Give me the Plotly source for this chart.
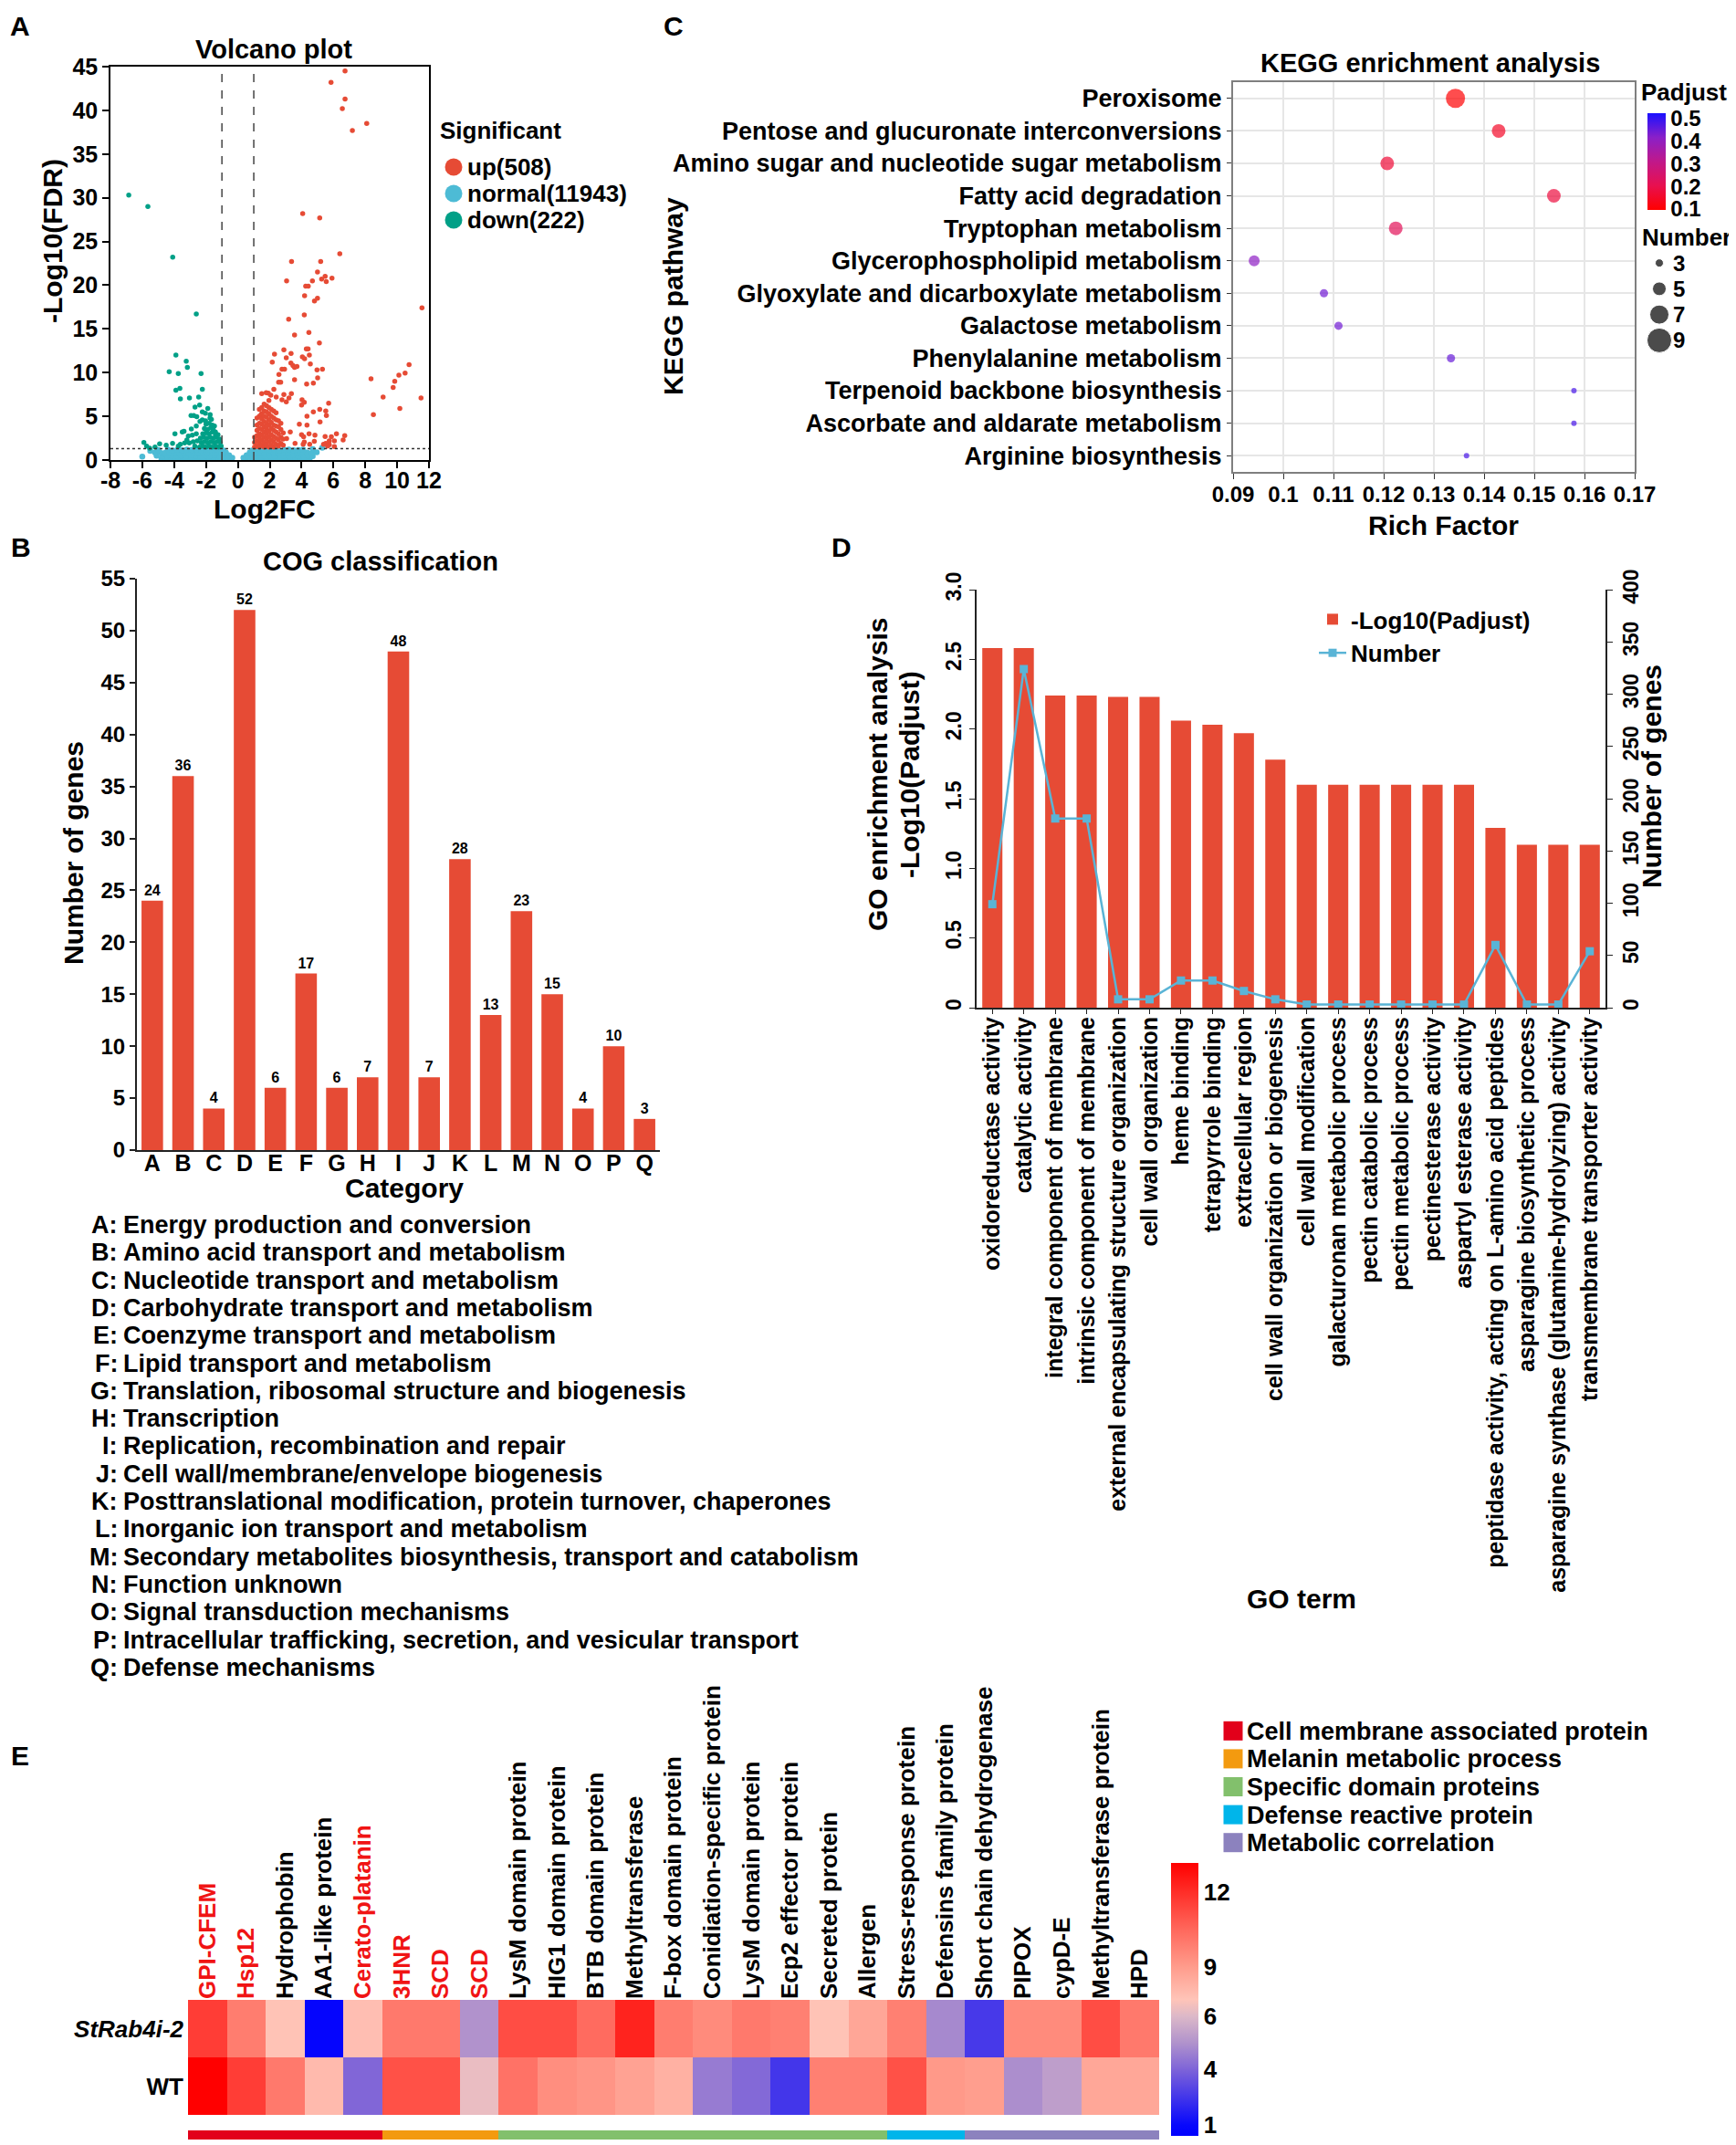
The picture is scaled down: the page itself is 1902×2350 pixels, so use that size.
import numpy as np
import plotly.graph_objects as go

W, H = 1902, 2350
PAGE_OFFSET = 8  # the page body margin shifts the figure by this many px
FONT = "Liberation Sans, Arial, sans-serif"


def px(x):
    return (x - PAGE_OFFSET) / W


def py(y):
    return 1 - (y - PAGE_OFFSET) / H


def bfont(size, color="black", **kw):
    return dict(family=FONT, size=size, color=color, weight="bold", **kw)


# ======================= DATA =======================
# ---- A: volcano plot ----
volcano_groups = ["up", "normal", "down"]
volcano_counts = [508, 11943, 222]
volcano_colors = ["#E64B35", "#4DBBD5", "#00A087"]
FC_CUT = 1.0
FDR_CUT = 1.3
volcano_xticks = [-8, -6, -4, -2, 0, 2, 4, 6, 8, 10, 12]
volcano_yticks = [0, 5, 10, 15, 20, 25, 30, 35, 40, 45]

up_pts = [
    (6.73, 44.5), (5.85, 43.2), (6.73, 41.3), (6.56, 40.2), (8.09, 38.5), (7.19, 37.7),
    (4.07, 28.2), (5.14, 27.7), (6.40, 23.6), (3.37, 22.7), (5.20, 22.7), (5.0, 21.5),
    (5.48, 21.0), (5.26, 20.7), (5.55, 20.4), (5.91, 20.8), (3.06, 20.5), (4.68, 20.5),
    (4.26, 19.9), (4.42, 19.9), (4.19, 18.8), (5.0, 18.5), (4.81, 18.2), (11.56, 17.4),
    (4.17, 16.6), (3.19, 16.1), (4.46, 14.6), (3.56, 14.3), (5.12, 13.4), (2.89, 12.6),
    (4.30, 12.7), (4.41, 12.7), (2.30, 12.1), (3.34, 12.2), (4.49, 12.0), (3.04, 11.7),
    (4.05, 11.8), (4.19, 11.6), (2.16, 11.2), (3.33, 11.1), (3.46, 10.8), (3.56, 10.6),
    (3.71, 10.7), (4.55, 11.0), (2.77, 10.4), (2.93, 10.4), (4.97, 10.3), (5.31, 10.4),
    (2.58, 9.8), (8.36, 9.3), (10.75, 10.9), (10.5, 9.95), (10.11, 9.7), (9.85, 9.0),
    (9.75, 8.3), (9.12, 7.2), (11.5, 7.1), (10.17, 5.9), (8.51, 5.2), (2.56, 8.9),
    (2.69, 8.9), (3.56, 9.2), (4.32, 8.7), (4.74, 8.8), (5.01, 9.4), (2.26, 8.1),
    (1.91, 7.65), (2.07, 7.4), (2.89, 7.5), (3.36, 7.6), (2.41, 7.2), (3.21, 7.1),
    (2.77, 6.9), (3.04, 6.65), (4.03, 6.9), (4.17, 6.6), (5.70, 6.5), (4.0, 6.3),
    (5.14, 5.8), (4.74, 5.5), (5.52, 5.6), (5.56, 5.1), (4.34, 5.0), (5.16, 4.35),
    (3.86, 4.1), (4.34, 4.0), (3.29, 3.2), (4.47, 3.0), (4.0, 2.9), (4.13, 2.65),
    (6.19, 3.0), (6.71, 2.8), (6.61, 2.3), (4.84, 2.85), (4.80, 2.15), (5.48, 2.7),
    (5.87, 2.65), (5.74, 2.2), (6.06, 2.2), (5.52, 1.9), (5.74, 1.75), (6.06, 1.55),
    (3.59, 1.9), (3.06, 2.45), (4.17, 2.05), (4.51, 1.8), (5.38, 1.8), (5.63, 1.6),
    (4.1, 1.8), (1.78, 7.7), (1.46, 5.2),
    # dense cluster just right of the fold-change cut
    (1.05, 1.5), (1.05, 2.0), (1.05, 2.6),
    (1.2, 1.6), (1.2, 2.2), (1.2, 2.8), (1.2, 3.4), (1.2, 4.0), (1.2, 4.8),
    (1.35, 1.5), (1.35, 2.0), (1.35, 2.5), (1.35, 3.0), (1.35, 3.6), (1.35, 4.2), (1.35, 5.0), (1.35, 5.8),
    (1.5, 1.7), (1.5, 2.3), (1.5, 2.9), (1.5, 3.5), (1.5, 4.1), (1.5, 4.7), (1.5, 5.3), (1.5, 6.0), (1.5, 7.6),
    (1.65, 1.5), (1.65, 2.0), (1.65, 2.6), (1.65, 3.2), (1.65, 3.8), (1.65, 4.4), (1.65, 5.0), (1.65, 5.6), (1.65, 6.4),
    (1.8, 1.8), (1.8, 2.4), (1.8, 3.0), (1.8, 3.6), (1.8, 4.2), (1.8, 4.9), (1.8, 5.5), (1.8, 6.2),
    (1.95, 1.5), (1.95, 2.1), (1.95, 2.7), (1.95, 3.3), (1.95, 4.0), (1.95, 4.6), (1.95, 5.3), (1.95, 6.0), (1.95, 6.8),
    (2.1, 1.7), (2.1, 2.3), (2.1, 2.9), (2.1, 3.6), (2.1, 4.3), (2.1, 5.0), (2.1, 5.8),
    (2.25, 1.5), (2.25, 2.1), (2.25, 2.7), (2.25, 3.4), (2.25, 4.0), (2.25, 4.8), (2.25, 5.6),
    (2.4, 1.8), (2.4, 2.5), (2.4, 3.2), (2.4, 3.9), (2.4, 4.6), (2.4, 5.4),
    (2.55, 1.6), (2.55, 2.3), (2.55, 3.0), (2.55, 3.8), (2.55, 4.5),
    (2.7, 1.9), (2.7, 2.6), (2.7, 3.5), (2.7, 4.2),
    (2.85, 1.7), (2.85, 2.4), (2.85, 3.1),
]

down_pts = [
    (-6.85, 30.3), (-5.65, 29.0), (-4.09, 23.2), (-2.61, 16.7), (-3.89, 12.0), (-3.24, 11.3),
    (-3.17, 10.6), (-4.31, 10.1), (-3.74, 9.9), (-2.31, 9.9), (-3.89, 8.0), (-3.64, 8.2),
    (-2.23, 8.1), (-3.61, 7.0), (-3.04, 7.1), (-2.46, 7.2), (-2.69, 6.05), (-2.40, 6.3),
    (-2.94, 5.1), (-2.77, 5.1), (-2.58, 4.95), (-1.89, 5.9), (-2.23, 5.5), (-2.04, 5.35),
    (-1.74, 5.2), (-1.75, 4.8), (-2.23, 4.6), (-2.03, 4.5), (-2.38, 4.4), (-1.66, 4.65),
    (-1.47, 3.9), (-1.41, 3.2), (-3.95, 3.0), (-3.49, 3.2), (-3.38, 3.3), (-2.92, 3.55),
    (-2.61, 3.9), (-3.11, 2.75), (-2.86, 2.85), (-2.61, 3.0), (-3.61, 1.8), (-3.34, 1.95),
    (-3.05, 1.95), (-5.90, 2.0), (-5.73, 1.6), (-5.54, 1.35), (-4.91, 1.85), (-3.74, 1.6),
    (-2.7, 1.6), (-2.55, 2.2), (-2.8, 2.1), (-3.2, 2.3), (-4.1, 1.9), (-4.5, 1.7), (-5.2, 1.5),
    # dense cluster just left of the fold-change cut
    (-2.4, 1.5), (-2.2, 1.6), (-2.0, 1.5), (-1.8, 1.6), (-1.6, 1.5), (-1.4, 1.6), (-1.2, 1.5), (-1.05, 1.6),
    (-2.3, 2.0), (-2.1, 2.1), (-1.9, 2.0), (-1.7, 2.1), (-1.5, 2.0), (-1.3, 2.1), (-1.1, 2.0),
    (-2.35, 2.5), (-2.15, 2.6), (-1.95, 2.5), (-1.75, 2.6), (-1.55, 2.5), (-1.35, 2.6), (-1.15, 2.4),
    (-2.2, 3.0), (-2.0, 3.1), (-1.8, 3.0), (-1.6, 3.2), (-1.4, 2.9), (-1.25, 2.9),
    (-2.1, 3.6), (-1.9, 3.5), (-1.7, 3.7), (-1.55, 3.5),
    (-2.0, 4.1), (-1.8, 4.2), (-1.6, 4.0),
]

normal_pts = [
    (-6.0, 0.4), (-5.5, 1.05),
    (-4.8, 0.15), (-4.5, 0.12), (-4.2, 0.18), (-3.9, 0.1), (-3.6, 0.15), (-3.3, 0.2), (-3.0, 0.12),
    (-2.7, 0.16), (-2.4, 0.1), (-2.1, 0.18), (-1.8, 0.14), (-1.5, 0.2), (-1.2, 0.12),
    (-5.1, 0.5), (-4.75, 0.45), (-4.45, 0.55), (-4.15, 0.5), (-3.85, 0.48), (-3.55, 0.52), (-3.25, 0.46),
    (-2.95, 0.55), (-2.65, 0.5), (-2.35, 0.45), (-2.05, 0.52), (-1.75, 0.5), (-1.45, 0.55), (-1.15, 0.48),
    (-5.2, 0.85), (-4.9, 0.9), (-4.6, 0.8), (-4.3, 0.88), (-4.0, 0.84), (-3.7, 0.9), (-3.4, 0.82),
    (-3.1, 0.87), (-2.8, 0.9), (-2.5, 0.83), (-2.2, 0.88), (-1.9, 0.85), (-1.6, 0.9), (-1.3, 0.82), (-1.05, 0.88),
    (-5.0, 1.15), (-4.4, 1.2), (-4.1, 1.1), (-3.8, 1.18), (-3.5, 1.12), (-3.2, 1.2), (-2.9, 1.15),
    (-2.6, 1.22), (-2.3, 1.1), (-2.0, 1.2), (-1.7, 1.16), (-1.4, 1.22), (-1.1, 1.18),
    (-0.9, 1.1), (-0.9, 0.6), (-0.9, 0.15), (-0.75, 0.85), (-0.7, 0.35), (-0.55, 0.55), (-0.5, 0.12),
    (-0.35, 0.25), (0.35, 0.25), (0.5, 0.12), (0.55, 0.55), (0.7, 0.35), (0.75, 0.85), (0.9, 1.1),
    (0.9, 0.6), (0.9, 0.15),
    (1.2, 0.15), (1.5, 0.1), (1.8, 0.18), (2.1, 0.12), (2.4, 0.16), (2.7, 0.1), (3.0, 0.18),
    (3.3, 0.14), (3.6, 0.2), (3.9, 0.12), (4.2, 0.16), (4.5, 0.1),
    (1.1, 0.5), (1.4, 0.55), (1.7, 0.46), (2.0, 0.52), (2.3, 0.48), (2.6, 0.55), (2.9, 0.45),
    (3.2, 0.5), (3.5, 0.54), (3.8, 0.47), (4.1, 0.52), (4.4, 0.5), (4.7, 0.45),
    (1.05, 0.88), (1.35, 0.82), (1.65, 0.9), (1.95, 0.85), (2.25, 0.88), (2.55, 0.82), (2.85, 0.9),
    (3.15, 0.84), (3.45, 0.88), (3.75, 0.83), (4.05, 0.9), (4.35, 0.86), (4.65, 0.82), (4.95, 0.88),
    (1.1, 1.18), (1.4, 1.12), (1.7, 1.2), (2.0, 1.15), (2.3, 1.22), (2.6, 1.1), (2.9, 1.18),
    (3.2, 1.2), (3.5, 1.12), (3.8, 1.16), (4.1, 1.2), (4.7, 1.25), (5.3, 1.4),
]

# ---- C: KEGG enrichment ----
kegg_pathways = [
    "Peroxisome", "Pentose and glucuronate interconversions",
    "Amino sugar and nucleotide sugar metabolism", "Fatty acid degradation",
    "Tryptophan metabolism", "Glycerophospholipid metabolism",
    "Glyoxylate and dicarboxylate metabolism", "Galactose metabolism",
    "Phenylalanine metabolism", "Terpenoid backbone biosynthesis",
    "Ascorbate and aldarate metabolism", "Arginine biosynthesis",
]
kegg_rich = [0.1343, 0.1429, 0.1207, 0.1539, 0.1224, 0.0942, 0.1081, 0.1110, 0.1334, 0.1579, 0.1579, 0.1365]
kegg_count = [7, 5, 5, 5, 5, 4, 3, 3, 3, 2, 2, 2]
kegg_padj = [0.10, 0.15, 0.17, 0.18, 0.22, 0.41, 0.44, 0.44, 0.45, 0.48, 0.48, 0.48]
kegg_xticks = [0.09, 0.10, 0.11, 0.12, 0.13, 0.14, 0.15, 0.16, 0.17]
kegg_xticklabels = ["0.09", "0.1", "0.11", "0.12", "0.13", "0.14", "0.15", "0.16", "0.17"]
padj_ticks = [0.1, 0.2, 0.3, 0.4, 0.5]
number_legend = [3, 5, 7, 9]
BUBBLE_PX_PER_GENE = 3

# ---- B: COG classification ----
cog_letters = ["A", "B", "C", "D", "E", "F", "G", "H", "I", "J", "K", "L", "M", "N", "O", "P", "Q"]
cog_counts = [24, 36, 4, 52, 6, 17, 6, 7, 48, 7, 28, 13, 23, 15, 4, 10, 3]
cog_desc = [
    "Energy production and conversion",
    "Amino acid transport and metabolism",
    "Nucleotide transport and metabolism",
    "Carbohydrate transport and metabolism",
    "Coenzyme transport and metabolism",
    "Lipid transport and metabolism",
    "Translation, ribosomal structure and biogenesis",
    "Transcription",
    "Replication, recombination and repair",
    "Cell wall/membrane/envelope biogenesis",
    "Posttranslational modification, protein turnover, chaperones",
    "Inorganic ion transport and metabolism",
    "Secondary metabolites biosynthesis, transport and catabolism",
    "Function unknown",
    "Signal transduction mechanisms",
    "Intracellular trafficking, secretion, and vesicular transport",
    "Defense mechanisms",
]
cog_yticks = [0, 5, 10, 15, 20, 25, 30, 35, 40, 45, 50, 55]

# ---- D: GO enrichment ----
go_terms = [
    "oxidoreductase activity", "catalytic activity", "integral component of membrane",
    "intrinsic component of membrane", "external encapsulating structure organization",
    "cell wall organization", "heme binding", "tetrapyrrole binding", "extracellular region",
    "cell wall organization or biogenesis", "cell wall modification",
    "galacturonan metabolic process", "pectin catabolic process", "pectin metabolic process",
    "pectinesterase activity", "aspartyl esterase activity",
    "peptidase activity, acting on L-amino acid peptides", "asparagine biosynthetic process",
    "asparagine synthase (glutamine-hydrolyzing) activity", "transmembrane transporter activity",
]
go_log10p = [2.58, 2.58, 2.24, 2.24, 2.23, 2.23, 2.06, 2.03, 1.97, 1.78, 1.6, 1.6, 1.6, 1.6, 1.6, 1.6, 1.29, 1.17, 1.17, 1.17]
go_number = [99, 324, 181, 181, 8, 8, 26, 26, 16, 8, 3, 3, 3, 3, 3, 3, 60, 3, 3, 54]
go_left_ticks = [0, 0.5, 1.0, 1.5, 2.0, 2.5, 3.0]
go_left_ticklabels = ["0", "0.5", "1.0", "1.5", "2.0", "2.5", "3.0"]
go_right_ticks = [0, 50, 100, 150, 200, 250, 300, 350, 400]

# ---- E: heatmap ----
genes = [
    "GPI-CFEM", "Hsp12", "Hydrophobin", "AA1-like protein", "Cerato-platanin", "3HNR", "SCD", "SCD",
    "LysM domain protein", "HIG1 domain protein", "BTB domain protein", "Methyltransferase",
    "F-box domain protein", "Conidiation-specific protein", "LysM domain protein",
    "Ecp2 effector protein", "Secreted protein", "Allergen", "Stress-response protein",
    "Defensins family protein", "Short chain dehydrogenase", "PIPOX", "cypD-E",
    "Methyltransferase protein", "HPD",
]
gene_highlight = [1, 1, 0, 0, 1, 1, 1, 1, 0, 0, 0, 0, 0, 0, 0, 0, 0, 0, 0, 0, 0, 0, 0, 0, 0]
samples = ["StRab4i-2", "WT"]
expr_strab = [11.6, 9.9, 7.1, 0.8, 7.3, 10.0, 10.0, 5.0, 11.2, 11.2, 10.4, 12.3, 9.9, 9.5, 10.0, 9.8,
              7.1, 8.5, 9.8, 4.8, 2.6, 9.5, 9.5, 11.2, 10.0]
expr_wt = [13.2, 11.6, 10.0, 7.5, 4.05, 11.1, 11.1, 6.4, 10.2, 9.4, 9.2, 8.7, 7.95, 4.5, 4.1, 2.5,
           9.8, 9.8, 11.1, 9.1, 8.9, 4.9, 5.3, 8.45, 8.45]
gene_group = [0, 0, 0, 0, 0, 1, 1, 1, 2, 2, 2, 2, 2, 2, 2, 2, 2, 2, 3, 3, 4, 4, 4, 4, 4]
group_names = ["Cell membrane associated protein", "Melanin metabolic process",
               "Specific domain proteins", "Defense reactive protein", "Metabolic correlation"]
group_colors = ["#E2001A", "#F39A0F", "#82C06C", "#00B5EA", "#8C82BE"]
# colour bar of panel E: values and their positions (px from bottom of the bar)
cb_values = [0.4, 1, 4, 6, 9, 12, 13.2]
cb_pos = [0, 12, 73, 131, 185, 267, 299]
cb_ticks = [1, 4, 6, 9, 12]

# ======================= FIGURE =======================
fig = go.Figure()

# ---- A volcano ----
for pts, col, sz in [(normal_pts, volcano_colors[1], 6.5), (down_pts, volcano_colors[2], 5.5),
                     (up_pts, volcano_colors[0], 5.5)]:
    fig.add_trace(go.Scatter(x=[p[0] for p in pts], y=[p[1] for p in pts], mode="markers",
                             marker=dict(color=col, size=sz, line=dict(width=0)),
                             xaxis="x", yaxis="y", showlegend=False))
for xv in (-FC_CUT, FC_CUT):
    fig.add_shape(type="line", xref="x", yref="y domain", x0=xv, x1=xv, y0=0, y1=1,
                  line=dict(color="#444", width=1.5, dash="dash"))
fig.add_shape(type="line", xref="x domain", yref="y", x0=0, x1=1, y0=FDR_CUT, y1=FDR_CUT,
              line=dict(color="#333", width=1.5, dash="dot"))
# volcano legend (manual)
volcano_labels = [f"{g}({c})" for g, c in zip(volcano_groups, volcano_counts)]
fig.add_trace(go.Scatter(x=[0] * 3, y=volcano_labels, mode="markers",
                         marker=dict(color=volcano_colors, size=19), xaxis="x8", yaxis="y8",
                         showlegend=False, cliponaxis=False))

# ---- C KEGG ----
fig.add_trace(go.Scatter(
    x=kegg_rich, y=kegg_pathways, mode="markers", xaxis="x2", yaxis="y2", showlegend=False,
    marker=dict(size=[BUBBLE_PX_PER_GENE * c for c in kegg_count], color=kegg_padj,
                cmin=0.096, cmax=0.524,
                colorscale=[[0, "#ff0000"], [0.25, "#e8104f"], [0.5, "#c0188a"], [0.75, "#8a20c8"], [1, "#1a10ff"]],
                line=dict(width=0), showscale=True,
                colorbar=dict(x=px(1805), xanchor="left", y=py(124), yanchor="top", len=106,
                              lenmode="pixels", thickness=20, outlinewidth=0, ticks="",
                              xpad=0, ypad=0,
                              tickvals=padj_ticks, ticktext=[str(t) for t in padj_ticks],
                              tickfont=bfont(24)))))
number_labels = [str(n) for n in number_legend]
fig.add_trace(go.Scatter(x=[0] * len(number_legend), y=number_labels, mode="markers",
                         marker=dict(color="black", size=[BUBBLE_PX_PER_GENE * n for n in number_legend]),
                         xaxis="x9", yaxis="y9", showlegend=False, cliponaxis=False))

# ---- B COG ----
fig.add_trace(go.Bar(x=cog_letters, y=cog_counts, marker=dict(color="#E64B35", line=dict(width=0)),
                     width=0.7, text=[str(c) for c in cog_counts], textposition="outside",
                     textfont=bfont(16), cliponaxis=False, xaxis="x3", yaxis="y3", showlegend=False))

# ---- D GO ----
go_idx = list(range(len(go_terms)))
fig.add_trace(go.Bar(x=go_idx, y=go_log10p, marker=dict(color="#E64B35", line=dict(width=0)), width=0.64,
                     name="-Log10(Padjust)", xaxis="x4", yaxis="y4", showlegend=True))
fig.add_trace(go.Scatter(x=go_idx, y=go_number, mode="lines+markers", name="Number",
                         line=dict(color="#5AB4D6", width=2.5),
                         marker=dict(symbol="square", size=9, color="#5AB4D6"),
                         xaxis="x4", yaxis="y5", showlegend=True))

# ---- E heatmap ----
gene_idx = list(range(len(genes)))
z_pos = [list(np.interp(expr_strab, cb_values, cb_pos)), list(np.interp(expr_wt, cb_values, cb_pos))]
heat_scale = [[0, "#0000ff"], [0.04, "#0808fc"], [0.244, "#7e64d8"], [0.34, "#b092cc"],
              [0.438, "#dcb8c8"], [0.5, "#ffc4b8"], [0.619, "#ff9c8c"], [0.75, "#ff6a5e"],
              [0.893, "#ff2e28"], [1, "#ff0000"]]
fig.add_trace(go.Heatmap(
    x=gene_idx, y=[0, 1], z=z_pos, zmin=cb_pos[0], zmax=cb_pos[-1], colorscale=heat_scale,
    xaxis="x6", yaxis="y6", zsmooth=False,
    colorbar=dict(x=px(1283), xanchor="left", y=py(2041), yanchor="top", len=299, lenmode="pixels",
                  thickness=30, outlinewidth=0, ticks="", ypad=0, xpad=0,
                  tickvals=list(np.interp(cb_ticks, cb_values, cb_pos)),
                  ticktext=[str(t) for t in cb_ticks], tickfont=bfont(26))))
n_groups = len(group_colors)
group_scale = []
for i, c in enumerate(group_colors):
    group_scale.append([i / n_groups, c])
    group_scale.append([(i + 1) / n_groups, c])
fig.add_trace(go.Heatmap(x=gene_idx, y=[0], z=[gene_group], zmin=-0.5, zmax=n_groups - 0.5,
                         colorscale=group_scale, showscale=False, xaxis="x7", yaxis="y7"))
fig.add_trace(go.Scatter(x=[0] * n_groups, y=group_names, mode="markers",
                         marker=dict(color=group_colors, size=21, symbol="square"),
                         xaxis="x10", yaxis="y10", showlegend=False, cliponaxis=False))

# ======================= LAYOUT =======================
noax = dict(visible=False, showgrid=False, zeroline=False)
gene_ticktext = [f'<span style="color:#f01414">{g}</span>' if h else g for g, h in zip(genes, gene_highlight)]


def cat_legend_axis(dom, labels, size):
    return dict(domain=dom, type="category", categoryorder="array", categoryarray=labels,
                range=[len(labels) - 0.5, -0.5], side="right", ticks="", tickmode="array",
                tickvals=labels, ticktext=labels, showline=False, showgrid=False, zeroline=False,
                tickfont=bfont(size), ticklabelstandoff=4)


layout = dict(
    width=W, height=H, margin=dict(l=0, r=0, t=0, b=0, autoexpand=False),
    paper_bgcolor="white", plot_bgcolor="white",
    font=dict(family=FONT, color="black"),
    legend=dict(x=px(1440), y=py(655), xanchor="left", yanchor="top", font=bfont(26),
                bgcolor="rgba(0,0,0,0)", itemwidth=30, tracegroupgap=2),
    # A
    xaxis=dict(domain=[px(121), px(470)], anchor="y", range=[-8, 12], tickvals=volcano_xticks,
               ticktext=[str(t) for t in volcano_xticks],
               ticks="outside", ticklen=7, tickwidth=1.5, tickcolor="black", showline=True,
               linecolor="black", linewidth=1.5, mirror=True, showgrid=False, zeroline=False,
               tickfont=bfont(25), ticklabelstandoff=-8),
    yaxis=dict(domain=[py(504), py(73)], anchor="x", range=[0, 45], tickvals=volcano_yticks,
               ticks="outside", ticklen=7, tickwidth=1.5, tickcolor="black", showline=True,
               linecolor="black", linewidth=1.5, mirror=True, showgrid=False, zeroline=False,
               tickfont=bfont(25)),
    # C
    xaxis2=dict(domain=[px(1351), px(1791)], anchor="y2", range=[0.09, 0.17], tickvals=kegg_xticks,
                ticktext=kegg_xticklabels, ticks="outside", ticklen=6, tickcolor="#333",
                showline=True, linecolor="#7f7f7f", linewidth=2, mirror=True, showgrid=True,
                gridcolor="#e6e6e6", gridwidth=1.5, zeroline=False, tickfont=bfont(24),
                ticklabelstandoff=-4),
    yaxis2=dict(domain=[py(517), py(90)], anchor="x2", type="category", categoryorder="array",
                categoryarray=kegg_pathways, range=[11.5, -0.5], ticks="outside", ticklen=5,
                tickmode="array", tickvals=kegg_pathways, ticktext=kegg_pathways,
                tickcolor="#333", showline=True, linecolor="#7f7f7f", linewidth=2, mirror=True,
                showgrid=True, gridcolor="#e6e6e6", gridwidth=1.5, zeroline=False, tickfont=bfont(27)),
    # B
    xaxis3=dict(domain=[px(150), px(723)], anchor="y3", type="category", categoryorder="array",
                categoryarray=cog_letters, range=[-0.5, 16.5], ticks="", showline=True,
                tickmode="array", tickvals=cog_letters, ticktext=cog_letters,
                linecolor="#222", linewidth=2, showgrid=False, zeroline=False, tickfont=bfont(25),
                ticklabelstandoff=-9),
    yaxis3=dict(domain=[py(1260), py(634)], anchor="x3", range=[0, 55], tickvals=cog_yticks,
                ticks="outside", ticklen=6, tickwidth=1.5, tickcolor="#222", showline=True,
                linecolor="#222", linewidth=2, showgrid=False, zeroline=False, tickfont=bfont(24)),
    # D
    xaxis4=dict(domain=[px(1070), px(1759)], anchor="y4", range=[-0.5, len(go_terms) - 0.5],
                tickvals=go_idx, ticktext=go_terms, tickangle=-90, ticks="outside", ticklen=5,
                tickcolor="#222", showline=True, linecolor="#222", linewidth=2, showgrid=False,
                zeroline=False, tickfont=bfont(25), ticklabelstandoff=-7),
    yaxis4=dict(domain=[py(1104), py(646)], anchor="x4", range=[0, 3], tickvals=go_left_ticks,
                ticktext=go_left_ticklabels, tickangle=-90, ticks="outside", ticklen=6,
                tickcolor="#222", showline=True, linecolor="#222", linewidth=2, showgrid=False,
                zeroline=False, tickfont=bfont(23)),
    yaxis5=dict(overlaying="y4", anchor="x4", side="right", range=[0, 400], tickvals=go_right_ticks,
                tickangle=-90, ticks="outside", ticklen=6, tickcolor="#222", showline=True,
                linecolor="#222", linewidth=2, showgrid=False, zeroline=False, tickfont=bfont(23)),
    # E heatmap
    xaxis6=dict(domain=[px(206), px(1270)], anchor="y6", side="top", range=[-0.5, len(genes) - 0.5],
                tickvals=gene_idx, ticktext=gene_ticktext, tickangle=-90, ticks="", showline=False,
                showgrid=False, zeroline=False, tickfont=bfont(26), ticklabelstandoff=0),
    yaxis6=dict(domain=[py(2317), py(2191)], anchor="x6", range=[1.5, -0.5], tickvals=[0, 1],
                ticktext=["<i>" + samples[0] + "</i>", samples[1]], ticks="", showline=False,
                showgrid=False, zeroline=False, tickfont=bfont(26), ticklabelstandoff=4),
    xaxis7=dict(domain=[px(206), px(1270)], anchor="y7", range=[-0.5, len(genes) - 0.5], **noax),
    yaxis7=dict(domain=[py(2344), py(2334)], anchor="x7", range=[-0.5, 0.5], **noax),
    # manual legends
    xaxis8=dict(domain=[px(487), px(507)], anchor="y8", range=[-1, 1], **noax),
    yaxis8=dict(anchor="x8", **cat_legend_axis([py(255.5), py(168.5)], volcano_labels, 26)),
    xaxis9=dict(domain=[px(1808), px(1828)], anchor="y9", range=[-1, 1], **noax),
    yaxis9=dict(anchor="x9", **cat_legend_axis([py(387), py(274)], number_labels, 24)),
    xaxis10=dict(domain=[px(1341), px(1361)], anchor="y10", range=[-1, 1], **noax),
    yaxis10=dict(anchor="x10", **cat_legend_axis([py(2034), py(1881)], group_names, 27)),
)


def ann(text, x, y, size, xanchor="center", angle=0, color="black"):
    return dict(text=text, x=px(x), y=py(y), xref="paper", yref="paper", xanchor=xanchor,
                yanchor="middle", showarrow=False, textangle=angle, font=bfont(size, color))


annotations = [
    ann("A", 22, 29, 30), ann("B", 23, 600, 30), ann("C", 738, 29, 30), ann("D", 922, 600, 30),
    ann("E", 22, 1923, 30),
    ann("Volcano plot", 300, 54, 29), ann("Log2FC", 290, 557, 30), ann("-Log10(FDR)", 58, 264, 30, angle=-90),
    ann("Significant", 480, 143, 26, xanchor="left"),
    ann("KEGG enrichment analysis", 1567, 69, 29), ann("Rich Factor", 1581, 575, 30),
    ann("KEGG pathway", 738, 325, 30, angle=-90), ann("Padjust", 1796, 101, 26, xanchor="left"),
    ann("Number", 1797, 260, 26, xanchor="left"),
    ann("COG classification", 417, 615, 29), ann("Category", 443, 1301, 30),
    ann("Number of genes", 80, 935, 30, angle=-90),
    ann("GO enrichment analysis", 961, 849, 30, angle=-90),
    ann("-Log10(Padjust)", 996, 849, 30, angle=-90),
    ann("Number of genes", 1810, 851, 30, angle=-90),
    ann("GO term", 1426, 1751, 30),
]
for i, (letter, desc) in enumerate(zip(cog_letters, cog_desc)):
    yy = 1342 + i * 30.3
    annotations.append(ann(letter + ":", 131, yy, 27, xanchor="right"))
    annotations.append(ann(desc, 133, yy, 27, xanchor="left"))

layout["annotations"] = annotations
fig.update_layout(**layout)
fig.write_html("out.html")
